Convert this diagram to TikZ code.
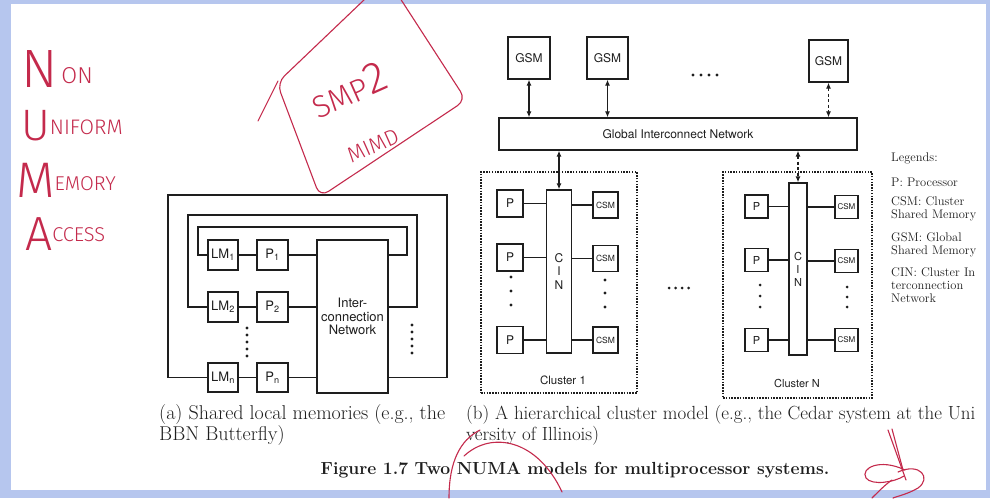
\documentclass[tikz,border=0pt]{standalone}
\usepackage{fontspec}
\newfontfamily\heros{TeX Gyre Heros}
\newfontfamily\hand{Fira Sans Light}
\usetikzlibrary{arrows.meta}
\definecolor{bgblue}{RGB}{182,198,238}
\definecolor{ink}{RGB}{30,30,30}
\definecolor{handred}{RGB}{196,42,76}
\newcommand{\myfs}[1]{\fontsize{#1}{#1}\selectfont}
\tikzset{
  bx/.style={draw=ink, line width=1.3pt, inner sep=0pt, text=ink, font=\heros},
  lmbox/.style={bx, minimum width=30, minimum height=30, font=\heros\myfs{13}},
  gsmbox/.style={bx, minimum width=42, minimum height=42, font=\heros\myfs{12}},
  pbox/.style={bx, minimum width=26, minimum height=27, font=\heros\myfs{12}},
  csmbox/.style={bx, minimum width=25, minimum height=26, font=\heros\myfs{8.5}},
  pboxn/.style={bx, minimum width=23, minimum height=23, font=\heros\myfs{11}},
  csmboxn/.style={bx, minimum width=23, minimum height=23, font=\heros\myfs{8}},
  wire/.style={draw=ink, line width=1.2pt},
  dbl/.style={wire, {Latex[length=6pt,width=5pt]}-{Latex[length=6pt,width=5pt]}},
  clus/.style={draw=ink, line width=1.7pt, dash pattern=on 1.5pt off 1.3pt, inner sep=0pt},
  captxt/.style={anchor=base west, inner sep=0pt, text=ink, font=\myfs{19}},
  legtxt/.style={anchor=base west, inner sep=0pt, text=ink, font=\myfs{12.5}},
  handtxt/.style={text=handred, font=\hand, inner sep=0pt},
  handline/.style={draw=handred, line width=1.1pt, line cap=round, line join=round}
}
\begin{document}
\begin{tikzpicture}[x=1pt,y=-1pt]
\useasboundingbox (0,0) rectangle (990,498);
\fill[bgblue] (0,0) rectangle (990,498);
\fill[white] (11,4) rectangle (986,490);

% ---------- (a) shared local memories ----------
\node[lmbox] (lm1) at (223,255) {LM\textsubscript{1}};
\node[lmbox] (lm2) at (223,307) {LM\textsubscript{2}};
\node[lmbox, minimum height=29] (lmn) at (223,377.5) {LM\textsubscript{n}};
\node[lmbox, minimum width=31] (p1) at (272.5,255) {P\textsubscript{1}};
\node[lmbox, minimum width=31] (p2) at (272.5,307) {P\textsubscript{2}};
\node[lmbox, minimum width=31, minimum height=29] (pn) at (272.5,377.5) {P\textsubscript{n}};
\node[bx, line width=1.5pt, minimum width=71, minimum height=153, align=center,
      font=\heros\fontsize{13}{13.5}\selectfont] (net) at (352.5,316.5) {Inter-\\connection\\Network};

\draw[wire] (lm1) -- (p1);
\draw[wire] (lm2) -- (p2);
\draw[wire] (lmn) -- (pn);
\draw[wire] (p1.east) -- (p1.east -| net.west);
\draw[wire] (p2.east) -- (p2.east -| net.west);
\draw[wire] (pn.east) -- (pn.east -| net.west);
\draw[wire] (lm1.west) -- (198,255) -- (198,227) -- (407,227) -- (407,255) -- (lm1.west -| net.east);
\draw[wire] (lm2.west) -- (188,307) -- (188,215) -- (417,215) -- (417,307) -- (lm2.west -| net.east);
\draw[wire] (lmn.west) -- (168,377.5) -- (168,195) -- (447,195) -- (447,377.5) -- (lmn.west -| net.east);
\foreach \y in {328,335,342,349,356} \fill[ink] (247,\y) circle (1.6);
\foreach \y in {325,332,339,346,353} \fill[ink] (412,\y) circle (1.6);

\node[captxt, font=\myfs{20}] (capa1) at (159,419) {(a) Shared local memories (e.g., the};
\node[captxt, font=\myfs{20}] (capa2) at (159,440) {BBN Butterfly)};

% ---------- (b) hierarchical cluster model ----------
\node[gsmbox] (g1) at (529,58) {GSM};
\node[gsmbox, minimum width=41] (g2) at (607.5,58) {GSM};
\node[gsmbox, minimum width=39] (g3) at (828.5,61) {GSM};
\foreach \x in {693,701,709,717} \fill[ink] (\x,75) circle (1.6);
\node[bx, minimum width=358, minimum height=32, font=\heros\myfs{12}] (gin) at (678,134) {Global Interconnect Network};
\draw[dbl] (g1.south) -- (g1.south |- gin.north);
\draw[dbl] (g2.south) -- (g2.south |- gin.north);
\draw[dbl, dash pattern=on 3pt off 2.5pt] (g3.south) -- (g3.south |- gin.north);

% cluster 1
\node[clus, minimum width=156, minimum height=221] (cl1) at (559,282.5) {};
\node[bx, minimum width=25, minimum height=163, align=center,
      font=\heros\fontsize{12}{13.5}\selectfont] (cin1) at (559,271.5) {C\\I\\N};
\node[pbox] (p11) at (510,203.5) {P};
\node[pbox] (p12) at (510,257.5) {P};
\node[pbox] (p13) at (510,340) {P};
\node[csmbox] (c11) at (605.5,205) {CSM};
\node[csmbox] (c12) at (605.5,258.5) {CSM};
\node[csmbox] (c13) at (605.5,340) {CSM};
\foreach \n in {p11,p12,p13} \draw[wire] (\n.east) -- (\n.east -| cin1.west);
\foreach \n in {c11,c12,c13} \draw[wire] (\n.west) -- (\n.west -| cin1.east);
\draw[dbl] (gin.south -| cin1.north) -- (cin1.north);
\foreach \y in {277,291,305} \fill[ink] (511,\y) circle (1.6);
\foreach \y in {280,293,307} \fill[ink] (605,\y) circle (1.6);
\node[font=\heros\myfs{11.5}, text=ink, inner sep=0pt] (cl1lab) at (563,380) {Cluster 1};

\foreach \x in {669,675.5,682,688.5} \fill[ink] (\x,288) circle (1.5);

% cluster N
\node[clus, minimum width=149, minimum height=226] (cln) at (797.5,285) {};
\node[bx, minimum width=18, minimum height=172, align=center,
      font=\heros\fontsize{11}{13}\selectfont] (cinn) at (798,269) {C\\I\\N};
\node[pboxn] (pn1) at (756.5,206.5) {P};
\node[pboxn] (pn2) at (756.5,260) {P};
\node[pboxn] (pn3) at (756.5,340) {P};
\node[csmboxn] (cn1) at (846.5,207) {CSM};
\node[csmboxn] (cn2) at (846.5,261) {CSM};
\node[csmboxn] (cn3) at (846.5,340) {CSM};
\foreach \n in {pn1,pn2,pn3} \draw[wire] (\n.east) -- (\n.east -| cinn.west);
\foreach \n in {cn1,cn2,cn3} \draw[wire] (\n.west) -- (\n.west -| cinn.east);
\draw[dbl, dash pattern=on 3pt off 2.5pt] (gin.south -| cinn.north) -- (cinn.north);
\foreach \y in {285,296,307} \fill[ink] (760,\y) circle (1.5);
\foreach \y in {287,297,307} \fill[ink] (847,\y) circle (1.5);
\node[font=\heros\myfs{11}, text=ink, inner sep=0pt] (clnlab) at (797,383) {Cluster N};

% legend
\node[legtxt] (lg0) at (891,161) {Legends:};
\node[legtxt] (lg1) at (891,186) {P: Processor};
\node[legtxt] (lg2) at (891,205) {CSM: Cluster};
\node[legtxt] (lg3) at (891,218) {Shared Memory};
\node[legtxt] (lg4) at (891,241) {GSM: Global};
\node[legtxt] (lg5) at (891,254) {Shared Memory};
\node[legtxt] (lg6) at (891,276) {CIN: Cluster In};
\node[legtxt] (lg7) at (891,289) {terconnection};
\node[legtxt] (lg8) at (891,302) {Network};

\node[captxt] (capb1) at (466,419) {(b) A hierarchical cluster model (e.g., the Cedar system at the Uni};
\node[captxt] (capb2) at (466,440) {versity of Illinois)};

\node[anchor=base, inner sep=0pt, text=ink, font=\bfseries\myfs{17.5}] (fig) at (575,474)
  {Figure 1.7 Two NUMA models for multiprocessor systems.};

% ---------- handwritten annotations ----------
\node[handtxt, anchor=base west] (hn) at (21,87) {\myfs{54}N\raisebox{4pt}{\myfs{23}\,ON}};
\node[handtxt, anchor=base west] (hu) at (21,140) {\myfs{44}U\raisebox{6pt}{\myfs{21}NIFORM}};
\node[handtxt, anchor=base west] (hm) at (16,197) {\myfs{50}M\raisebox{7pt}{\myfs{20}EMORY}};
\node[handtxt, anchor=base west] (ha) at (25,250) {\myfs{48}A\raisebox{9pt}{\myfs{20}CCESS}};

\draw[handline, rounded corners=10pt] (277,83) -- (320,197) -- (466,100) -- (387,-22) -- cycle;
\draw[handline] (278,81) -- (258,121);
\node[handtxt, rotate=24] (smp) at (349,90) {\myfs{31}SMP\myfs{44}2};
\node[handtxt, rotate=24] (mimd) at (373,146) {\myfs{22}MIMD};

\draw[handline] (449,498) .. controls (449,462) and (460,440) .. (480,430);
\draw[handline] (464,456) .. controls (492,430) and (538,440) .. (562,492);
\draw[handline] (888,430) -- (906,480);
\draw[handline] (892,429) -- (903,470);
\draw[handline] (905,470) .. controls (880,458) and (860,468) .. (866,478) .. controls (872,486) and (895,482) .. (904,476);
\draw[handline] (898,472) .. controls (920,462) and (932,478) .. (918,488) .. controls (908,494) and (898,496) .. (893,498);
\draw[handline] (872,498) .. controls (880,490) and (886,484) .. (892,480);
\end{tikzpicture}
\end{document}
